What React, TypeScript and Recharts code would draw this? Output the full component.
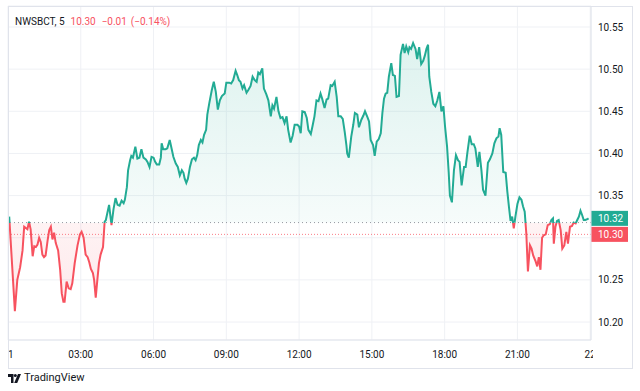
import React from 'react';
import { Area, CartesianGrid, ComposedChart, ReferenceLine, XAxis, YAxis } from 'recharts';

// 5 min bars, minute of day -> price
const minutes = [
  3, 17, 23, 30, 36, 40, 48, 52, 56, 61, 65, 69, 73, 77, 81, 85, 89, 93, 98, 102,
  106, 110, 114, 118, 124, 129, 133, 137, 140, 145, 150, 155, 159, 165, 172, 178, 182, 187, 192, 197,
  201, 205, 210, 213, 217, 221, 225, 229, 235, 239,
  242, 250, 256, 261, 266, 271, 276, 281, 286, 289, 294, 297, 302, 305, 309, 315, 320, 325, 330, 335,
  341, 345, 350, 355, 360, 364, 368, 374, 378, 380, 384, 390, 394, 400, 405, 409, 415, 420, 425, 430,
  434, 437, 441, 445, 450, 455, 460, 464, 468, 472, 477, 481, 485, 490, 493, 498, 504, 509, 514, 519,
  524, 529,
  536, 540, 547, 552, 557, 563, 567, 571, 575, 580, 584, 590, 594, 600, 605, 610, 615, 619, 623, 629,
  633, 639, 644, 650, 654, 658, 664, 669, 674, 679, 684, 689, 693, 699, 704, 709, 716, 720, 724, 728,
  734, 739, 743, 749, 753, 758, 763, 768, 773, 777, 783, 788, 792, 798, 802, 808, 813, 817, 823, 828,
  833, 837,
  839, 843, 849, 854, 858, 864, 868, 874, 879, 883, 889, 893, 897, 903, 907, 912, 917, 922, 926, 930,
  934, 938, 942, 948, 952, 957, 961, 967, 971, 977, 981, 985, 990, 993, 997, 1002, 1008, 1012, 1017, 1022,
  1027, 1031, 1035, 1039, 1042, 1047, 1052, 1057, 1062, 1067, 1072, 1077, 1081, 1086, 1090, 1093, 1098, 1103, 1108, 1113,
  1117, 1122, 1128,
  1132, 1136, 1142, 1147, 1152, 1156, 1162, 1166, 1171, 1175, 1181, 1187, 1192, 1198, 1203, 1208, 1213, 1216, 1220, 1225,
  1231, 1235, 1239, 1243, 1247, 1251, 1255, 1260, 1265, 1270, 1274, 1278, 1282, 1286, 1291, 1295, 1299, 1305, 1309, 1313,
  1317, 1321, 1325, 1330, 1335, 1340, 1344, 1348, 1350, 1354, 1358, 1362, 1367, 1371, 1376, 1381, 1385, 1390, 1395, 1399,
  1404, 1408, 1412, 1416, 1420, 1424, 1428, 1433, 1436,
];

const prices = [
  10.325, 10.213, 10.25, 10.265, 10.285, 10.313, 10.31, 10.319, 10.31, 10.278, 10.29, 10.289, 10.292, 10.3, 10.295, 10.28, 10.277, 10.279, 10.297, 10.309,
  10.313, 10.298, 10.306, 10.294, 10.285, 10.262, 10.234, 10.224, 10.224, 10.248, 10.24, 10.239, 10.246, 10.27, 10.291, 10.304, 10.307, 10.3, 10.28, 10.277,
  10.271, 10.263, 10.258, 10.25, 10.229, 10.25, 10.27, 10.28, 10.289, 10.319,
  10.321, 10.339, 10.315, 10.334, 10.347, 10.339, 10.338, 10.344, 10.341, 10.345, 10.36, 10.38, 10.392, 10.397, 10.395, 10.408, 10.394, 10.395, 10.405, 10.395,
  10.393, 10.39, 10.384, 10.396, 10.395, 10.39, 10.387, 10.387, 10.395, 10.412, 10.405, 10.405, 10.406, 10.416, 10.405, 10.396, 10.388, 10.384, 10.374, 10.38,
  10.377, 10.37, 10.365, 10.37, 10.384, 10.393, 10.395, 10.392, 10.398, 10.41, 10.416, 10.413, 10.422, 10.428, 10.446, 10.46, 10.475, 10.485, 10.473, 10.452,
  10.463, 10.468,
  10.471, 10.484, 10.484, 10.483, 10.487, 10.498, 10.493, 10.487, 10.485, 10.477, 10.481, 10.472, 10.475, 10.48, 10.491, 10.487, 10.485, 10.496, 10.494, 10.501,
  10.477, 10.47, 10.463, 10.444, 10.457, 10.453, 10.467, 10.45, 10.442, 10.443, 10.436, 10.444, 10.428, 10.413, 10.421, 10.434, 10.434, 10.432, 10.424, 10.45,
  10.449, 10.442, 10.428, 10.423, 10.432, 10.444, 10.463, 10.462, 10.471, 10.465, 10.454, 10.464, 10.465, 10.481, 10.48, 10.485, 10.467, 10.444, 10.444, 10.441,
  10.425, 10.41,
  10.4, 10.395, 10.42, 10.434, 10.448, 10.446, 10.431, 10.44, 10.445, 10.45, 10.443, 10.438, 10.416, 10.41, 10.397, 10.414, 10.417, 10.424, 10.448, 10.465,
  10.471, 10.472, 10.491, 10.507, 10.493, 10.492, 10.467, 10.468, 10.517, 10.53, 10.519, 10.527, 10.52, 10.526, 10.524, 10.531, 10.524, 10.512, 10.526, 10.506,
  10.51, 10.516, 10.524, 10.529, 10.491, 10.473, 10.459, 10.456, 10.463, 10.473, 10.45, 10.456, 10.432, 10.408, 10.378, 10.35, 10.342, 10.38, 10.398, 10.392,
  10.39, 10.362, 10.384,
  10.384, 10.4, 10.421, 10.411, 10.411, 10.406, 10.384, 10.402, 10.38, 10.357, 10.35, 10.389, 10.393, 10.4, 10.412, 10.418, 10.42, 10.43, 10.422, 10.378,
  10.377, 10.355, 10.337, 10.32, 10.325, 10.311, 10.325, 10.34, 10.348, 10.345, 10.337, 10.331, 10.305, 10.26, 10.291, 10.287, 10.279, 10.272, 10.266, 10.277,
  10.262, 10.3, 10.303, 10.304, 10.315, 10.316, 10.321, 10.323, 10.293, 10.313, 10.32, 10.321, 10.309, 10.287, 10.291, 10.307, 10.293, 10.313, 10.314, 10.318,
  10.317, 10.321, 10.325, 10.332, 10.327, 10.321, 10.321, 10.322, 10.323,
];

const timeTicks = [0, 180, 360, 540, 720, 900, 1080, 1260, 1440];
const timeLabels = ['21', '03:00', '06:00', '09:00', '12:00', '15:00', '18:00', '21:00', '22'];
const priceTicks = [10.2, 10.25, 10.3, 10.35, 10.4, 10.45, 10.5, 10.55];

const symbol = 'NWSBCT, 5';
const quoteLast = '10.30';
const quoteChange = '−0.01';
const quotePct = '(−0.14%)';

const baseline = 10.318;
const closeLevel = 10.304;
const closeLabel = '10.30';

const UP = '#22ab94';
const DOWN = '#f7525f';
const TEXT = '#131722';
const FONT = 'Roboto, sans-serif';

const data = minutes.map((t, i) => ({ t, v: prices[i] }));
const lastPrice = prices[prices.length - 1];
const hi = Math.max(...prices);
const lo = Math.min(...prices);
const split = (hi - baseline) / (hi - lo); // where the colour flips inside the line's bbox

const TimeTick = (props: any) => {
  const { x, y, payload } = props;
  const idx = timeTicks.indexOf(payload.value);
  return (
    <text x={x} y={y} dy="0.71em" textAnchor="middle" fontSize={10} fill={TEXT} fontFamily={FONT} clipPath="url(#timeAxisClip)">
      {timeLabels[idx]}
    </text>
  );
};

// price scale labels that sit under a price tag are hidden, like on the original
const PriceTick = (props: any) => {
  const { x, y, payload } = props;
  const v = payload.value;
  if (Math.abs(v - closeLevel) < 0.012 || Math.abs(v - lastPrice) < 0.012) return null;
  return (
    <text x={x} y={y} dy="0.355em" textAnchor="start" fontSize={10} fill={TEXT} fontFamily={FONT}>
      {v.toFixed(2)}
    </text>
  );
};

const PriceTag = (props: any) => {
  const { viewBox, text, color } = props;
  if (!viewBox) return null;
  const right = viewBox.x + viewBox.width;
  return (
    <g>
      <rect x={right} y={viewBox.y - 7.5} width={37} height={15} fill={color} />
      <text x={right + 7} y={viewBox.y} dy="0.355em" fontSize={10} fill="#fff" fontFamily={FONT}>
        {text}
      </text>
    </g>
  );
};

const TvLogo = () => (
  <svg width={13} height={9} viewBox="0 0 13 9" style={{ display: 'block' }}>
    <path d="M0 0 H5.5 V9 H3 V3 H0 Z" fill={TEXT} />
    <circle cx={7.3} cy={1.5} r={1.5} fill={TEXT} />
    <path d="M10 0 H13 L9.2 9 H6.2 Z" fill={TEXT} />
  </svg>
);

export default function App() {
  return (
    <div style={{ position: 'fixed', left: 0, top: 0, width: 640, height: 391, background: '#fff', fontFamily: FONT }}>
      <ComposedChart width={640} height={391} data={data} margin={{ top: 6, right: 8, bottom: 23, left: 8 }}>
        <defs>
          <linearGradient id="lineSplit" x1="0" y1="0" x2="0" y2="1">
            <stop offset={split} stopColor={UP} />
            <stop offset={split} stopColor={DOWN} />
          </linearGradient>
          <linearGradient id="fillSplit" x1="0" y1="0" x2="0" y2="1">
            <stop offset={0} stopColor={UP} stopOpacity={0.15} />
            <stop offset={split} stopColor={UP} stopOpacity={0.04} />
            <stop offset={split} stopColor={DOWN} stopOpacity={0.07} />
            <stop offset={1} stopColor={DOWN} stopOpacity={0.13} />
          </linearGradient>
          <clipPath id="timeAxisClip">
            <rect x={8} y={340} width={585} height={28} />
          </clipPath>
        </defs>
        <CartesianGrid stroke="#eff1f5" />
        <XAxis
          dataKey="t"
          type="number"
          domain={[0, 1442]}
          ticks={timeTicks}
          tick={<TimeTick />}
          tickLine={false}
          tickSize={0}
          tickMargin={11}
          height={28}
          axisLine={{ stroke: '#e0e3eb' }}
          interval={0}
        />
        <YAxis
          orientation="right"
          type="number"
          domain={[10.1787, 10.5749]}
          allowDataOverflow
          ticks={priceTicks}
          tick={<PriceTick />}
          tickLine={false}
          tickSize={0}
          tickMargin={7}
          width={41}
          axisLine={{ stroke: '#e0e3eb' }}
          interval={0}
        />
        <Area
          type="linear"
          dataKey="v"
          baseValue={baseline}
          stroke="url(#lineSplit)"
          strokeWidth={2}
          fill="url(#fillSplit)"
          fillOpacity={1}
          dot={false}
          activeDot={false}
          isAnimationActive={false}
        />
        <ReferenceLine y={baseline} stroke="#9598a1" strokeDasharray="1 3" />
        <ReferenceLine y={closeLevel} stroke={DOWN} strokeOpacity={0.75} strokeDasharray="1 2" label={<PriceTag text={closeLabel} color={DOWN} />} />
        <ReferenceLine y={lastPrice} stroke="none" label={<PriceTag text={lastPrice.toFixed(2)} color={UP} />} />
      </ComposedChart>

      <div
        style={{
          position: 'absolute', left: 8, top: 6, width: 625, height: 363,
          border: '1px solid #e0e3eb', boxSizing: 'border-box', pointerEvents: 'none',
        }}
      />

      <div style={{ position: 'absolute', left: 15, top: 15, fontSize: 10, lineHeight: '14px', whiteSpace: 'nowrap' }}>
        <span style={{ color: TEXT }}>{symbol}</span>
        <span style={{ color: DOWN, marginLeft: 6 }}>{quoteLast}</span>
        <span style={{ color: DOWN, marginLeft: 6 }}>{quoteChange}</span>
        <span style={{ color: DOWN, marginLeft: 4 }}>{quotePct}</span>
      </div>

      <div style={{ position: 'absolute', left: 8, top: 372, display: 'flex', alignItems: 'center', gap: 3 }}>
        <TvLogo />
        <span style={{ fontSize: 11, color: TEXT, lineHeight: '12px' }}>TradingView</span>
      </div>
    </div>
  );
}
